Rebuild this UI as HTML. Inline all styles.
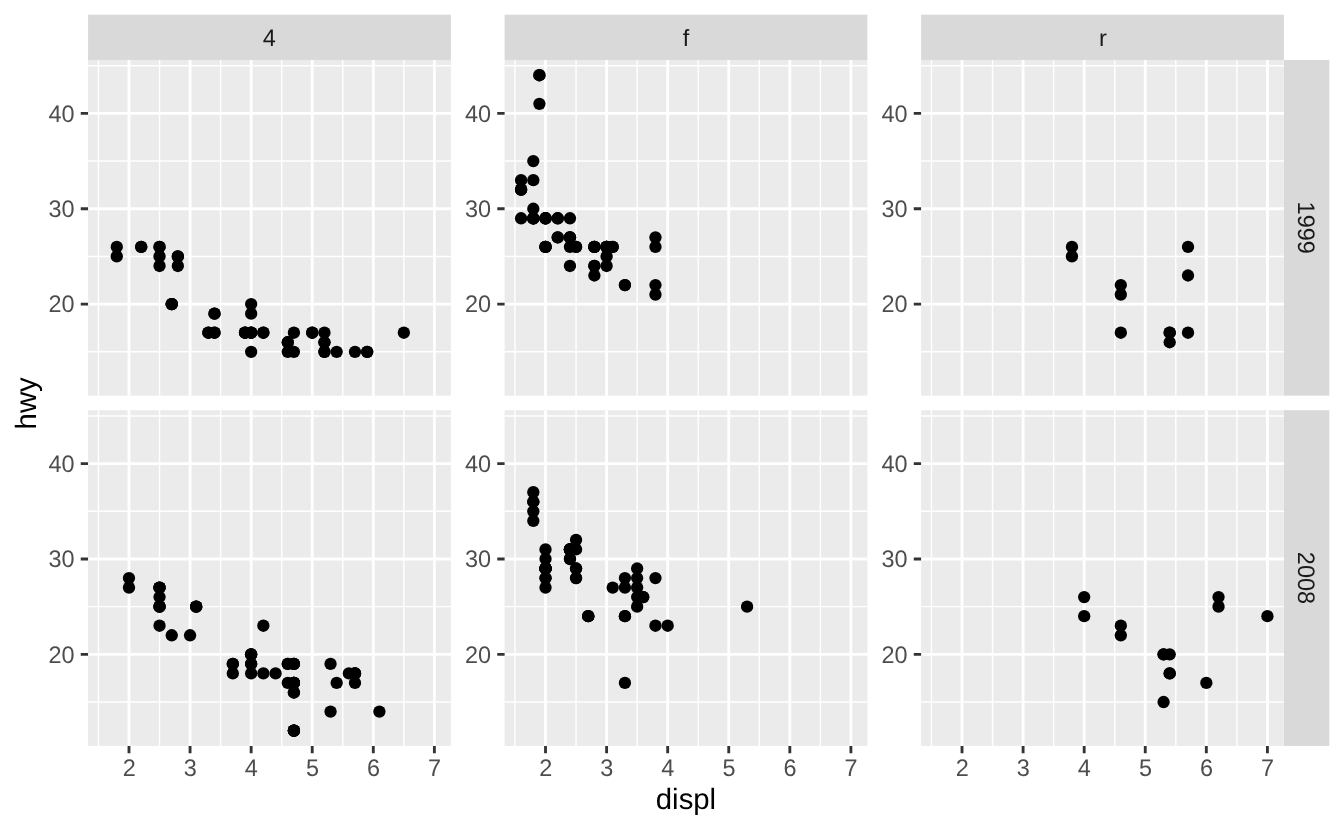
<!DOCTYPE html>
<html lang="en">
<head>
<meta charset="utf-8">
<title>hwy vs displ by drv and year</title>
<style>
html,body{margin:0;padding:0;background:#fff;}
body{width:1344px;height:830px;overflow:hidden;}
svg{display:block;}
text{font-family:"Liberation Sans",Arial,Helvetica,sans-serif;text-rendering:geometricPrecision;}
.ax{font-size:23.47px;fill:#4d4d4d;}
.st{font-size:23.47px;fill:#1a1a1a;}
.ti{font-size:29.33px;fill:#000;}
.bg{fill:#ebebeb;}
.sb{fill:#d9d9d9;}
.mn{stroke:#fff;stroke-width:1.42;fill:none;}
.mj{stroke:#fff;stroke-width:2.85;fill:none;}
.tk{stroke:#333;stroke-width:2.85;fill:none;}
.pt{fill:#000;}
</style>
</head>
<body>
<svg width="1344" height="830" viewBox="0 0 1344 830">
<rect x="0" y="0" width="1344" height="830" fill="#fff"/>
<rect class="sb" x="88.07" y="14.67" width="362.8" height="45.3"/>
<text class="st" transform="translate(269.17,45.7) scale(1,1.02)" text-anchor="middle">4</text>
<rect class="sb" x="504.6" y="14.67" width="362.8" height="45.3"/>
<text class="st" transform="translate(686,45.7) scale(1,1)" text-anchor="middle">f</text>
<rect class="sb" x="921.1" y="14.67" width="362.8" height="45.3"/>
<text class="st" transform="translate(1102.9,45.7) scale(1,1)" text-anchor="middle">r</text>
<rect class="sb" x="1283.9" y="59.97" width="45.43" height="335.7"/>
<text class="st" transform="translate(1298.2,227.72) rotate(90) scale(1,1.02)" text-anchor="middle">1999</text>
<rect class="sb" x="1283.9" y="410.2" width="45.43" height="335.7"/>
<text class="st" transform="translate(1298.2,577.95) rotate(90) scale(1,1.02)" text-anchor="middle">2008</text>
<g>
<rect class="bg" x="88.07" y="59.97" width="362.8" height="335.7"/>
<path class="mn" d="M88.07 351.8H450.87M88.07 256.43H450.87M88.07 161.06H450.87M88.07 65.69H450.87M98.45 59.97V395.67M159.53 59.97V395.67M220.61 59.97V395.67M281.69 59.97V395.67M342.76 59.97V395.67M403.84 59.97V395.67"/>
<path class="mj" d="M88.07 304.12H450.87M88.07 208.75H450.87M88.07 113.38H450.87M128.99 59.97V395.67M190.07 59.97V395.67M251.15 59.97V395.67M312.22 59.97V395.67M373.3 59.97V395.67M434.38 59.97V395.67"/>
<circle class="pt" cx="116.78" cy="246.89" r="6.16"/>
<circle class="pt" cx="116.78" cy="256.43" r="6.16"/>
<circle class="pt" cx="177.85" cy="256.43" r="6.16"/>
<circle class="pt" cx="177.85" cy="256.43" r="6.16"/>
<circle class="pt" cx="177.85" cy="265.97" r="6.16"/>
<circle class="pt" cx="354.98" cy="351.8" r="6.16"/>
<circle class="pt" cx="403.84" cy="332.73" r="6.16"/>
<circle class="pt" cx="245.04" cy="332.73" r="6.16"/>
<circle class="pt" cx="245.04" cy="332.73" r="6.16"/>
<circle class="pt" cx="324.44" cy="332.73" r="6.16"/>
<circle class="pt" cx="324.44" cy="351.8" r="6.16"/>
<circle class="pt" cx="245.04" cy="332.73" r="6.16"/>
<circle class="pt" cx="324.44" cy="342.26" r="6.16"/>
<circle class="pt" cx="367.19" cy="351.8" r="6.16"/>
<circle class="pt" cx="324.44" cy="351.8" r="6.16"/>
<circle class="pt" cx="324.44" cy="342.26" r="6.16"/>
<circle class="pt" cx="367.19" cy="351.8" r="6.16"/>
<circle class="pt" cx="251.15" cy="332.73" r="6.16"/>
<circle class="pt" cx="251.15" cy="313.65" r="6.16"/>
<circle class="pt" cx="251.15" cy="332.73" r="6.16"/>
<circle class="pt" cx="312.22" cy="332.73" r="6.16"/>
<circle class="pt" cx="263.36" cy="332.73" r="6.16"/>
<circle class="pt" cx="263.36" cy="332.73" r="6.16"/>
<circle class="pt" cx="287.79" cy="342.26" r="6.16"/>
<circle class="pt" cx="287.79" cy="342.26" r="6.16"/>
<circle class="pt" cx="336.66" cy="351.8" r="6.16"/>
<circle class="pt" cx="251.15" cy="304.12" r="6.16"/>
<circle class="pt" cx="293.9" cy="332.73" r="6.16"/>
<circle class="pt" cx="251.15" cy="351.8" r="6.16"/>
<circle class="pt" cx="287.79" cy="351.8" r="6.16"/>
<circle class="pt" cx="251.15" cy="332.73" r="6.16"/>
<circle class="pt" cx="312.22" cy="332.73" r="6.16"/>
<circle class="pt" cx="208.39" cy="332.73" r="6.16"/>
<circle class="pt" cx="208.39" cy="332.73" r="6.16"/>
<circle class="pt" cx="159.53" cy="256.43" r="6.16"/>
<circle class="pt" cx="159.53" cy="265.97" r="6.16"/>
<circle class="pt" cx="141.21" cy="246.89" r="6.16"/>
<circle class="pt" cx="141.21" cy="246.89" r="6.16"/>
<circle class="pt" cx="159.53" cy="246.89" r="6.16"/>
<circle class="pt" cx="159.53" cy="246.89" r="6.16"/>
<circle class="pt" cx="171.75" cy="304.12" r="6.16"/>
<circle class="pt" cx="171.75" cy="304.12" r="6.16"/>
<circle class="pt" cx="214.5" cy="313.65" r="6.16"/>
<circle class="pt" cx="214.5" cy="332.73" r="6.16"/>
<circle class="pt" cx="293.9" cy="351.8" r="6.16"/>
<circle class="pt" cx="171.75" cy="304.12" r="6.16"/>
<circle class="pt" cx="171.75" cy="304.12" r="6.16"/>
<circle class="pt" cx="214.5" cy="332.73" r="6.16"/>
<circle class="pt" cx="214.5" cy="313.65" r="6.16"/>
<path class="tk" d="M80.74 304.12H88.07M80.74 208.75H88.07M80.74 113.38H88.07"/>
<text class="ax" transform="translate(74.57,312.47) scale(1,1.02)" text-anchor="end">20</text>
<text class="ax" transform="translate(74.57,217.1) scale(1,1.02)" text-anchor="end">30</text>
<text class="ax" transform="translate(74.57,121.73) scale(1,1.02)" text-anchor="end">40</text>
</g>
<g>
<rect class="bg" x="504.6" y="59.97" width="362.8" height="335.7"/>
<path class="mn" d="M504.6 351.8H867.4M504.6 256.43H867.4M504.6 161.06H867.4M504.6 65.69H867.4M514.98 59.97V395.67M576.06 59.97V395.67M637.14 59.97V395.67M698.22 59.97V395.67M759.29 59.97V395.67M820.37 59.97V395.67"/>
<path class="mj" d="M504.6 304.12H867.4M504.6 208.75H867.4M504.6 113.38H867.4M545.52 59.97V395.67M606.6 59.97V395.67M667.68 59.97V395.67M728.75 59.97V395.67M789.83 59.97V395.67M850.91 59.97V395.67"/>
<circle class="pt" cx="533.31" cy="218.28" r="6.16"/>
<circle class="pt" cx="533.31" cy="218.28" r="6.16"/>
<circle class="pt" cx="594.38" cy="246.89" r="6.16"/>
<circle class="pt" cx="594.38" cy="246.89" r="6.16"/>
<circle class="pt" cx="569.95" cy="237.36" r="6.16"/>
<circle class="pt" cx="612.71" cy="246.89" r="6.16"/>
<circle class="pt" cx="569.95" cy="265.97" r="6.16"/>
<circle class="pt" cx="606.6" cy="265.97" r="6.16"/>
<circle class="pt" cx="624.92" cy="285.04" r="6.16"/>
<circle class="pt" cx="624.92" cy="285.04" r="6.16"/>
<circle class="pt" cx="655.46" cy="285.04" r="6.16"/>
<circle class="pt" cx="655.46" cy="294.58" r="6.16"/>
<circle class="pt" cx="521.09" cy="180.14" r="6.16"/>
<circle class="pt" cx="521.09" cy="189.67" r="6.16"/>
<circle class="pt" cx="521.09" cy="189.67" r="6.16"/>
<circle class="pt" cx="521.09" cy="218.28" r="6.16"/>
<circle class="pt" cx="521.09" cy="189.67" r="6.16"/>
<circle class="pt" cx="569.95" cy="246.89" r="6.16"/>
<circle class="pt" cx="569.95" cy="237.36" r="6.16"/>
<circle class="pt" cx="576.06" cy="246.89" r="6.16"/>
<circle class="pt" cx="576.06" cy="246.89" r="6.16"/>
<circle class="pt" cx="545.52" cy="246.89" r="6.16"/>
<circle class="pt" cx="545.52" cy="218.28" r="6.16"/>
<circle class="pt" cx="569.95" cy="218.28" r="6.16"/>
<circle class="pt" cx="569.95" cy="237.36" r="6.16"/>
<circle class="pt" cx="606.6" cy="246.89" r="6.16"/>
<circle class="pt" cx="606.6" cy="256.43" r="6.16"/>
<circle class="pt" cx="612.71" cy="246.89" r="6.16"/>
<circle class="pt" cx="655.46" cy="246.89" r="6.16"/>
<circle class="pt" cx="655.46" cy="237.36" r="6.16"/>
<circle class="pt" cx="557.74" cy="218.28" r="6.16"/>
<circle class="pt" cx="557.74" cy="237.36" r="6.16"/>
<circle class="pt" cx="606.6" cy="246.89" r="6.16"/>
<circle class="pt" cx="606.6" cy="246.89" r="6.16"/>
<circle class="pt" cx="557.74" cy="237.36" r="6.16"/>
<circle class="pt" cx="557.74" cy="218.28" r="6.16"/>
<circle class="pt" cx="606.6" cy="246.89" r="6.16"/>
<circle class="pt" cx="606.6" cy="246.89" r="6.16"/>
<circle class="pt" cx="533.31" cy="208.75" r="6.16"/>
<circle class="pt" cx="533.31" cy="180.14" r="6.16"/>
<circle class="pt" cx="533.31" cy="161.06" r="6.16"/>
<circle class="pt" cx="545.52" cy="218.28" r="6.16"/>
<circle class="pt" cx="545.52" cy="246.89" r="6.16"/>
<circle class="pt" cx="594.38" cy="265.97" r="6.16"/>
<circle class="pt" cx="539.41" cy="75.23" r="6.16"/>
<circle class="pt" cx="545.52" cy="218.28" r="6.16"/>
<circle class="pt" cx="545.52" cy="246.89" r="6.16"/>
<circle class="pt" cx="594.38" cy="275.5" r="6.16"/>
<circle class="pt" cx="594.38" cy="265.97" r="6.16"/>
<circle class="pt" cx="539.41" cy="75.23" r="6.16"/>
<circle class="pt" cx="539.41" cy="103.84" r="6.16"/>
<circle class="pt" cx="545.52" cy="218.28" r="6.16"/>
<circle class="pt" cx="545.52" cy="246.89" r="6.16"/>
<circle class="pt" cx="533.31" cy="218.28" r="6.16"/>
<circle class="pt" cx="533.31" cy="218.28" r="6.16"/>
<circle class="pt" cx="594.38" cy="246.89" r="6.16"/>
<circle class="pt" cx="594.38" cy="246.89" r="6.16"/>
<path class="tk" d="M497.27 304.12H504.6M497.27 208.75H504.6M497.27 113.38H504.6"/>
<text class="ax" transform="translate(491.1,312.47) scale(1,1.02)" text-anchor="end">20</text>
<text class="ax" transform="translate(491.1,217.1) scale(1,1.02)" text-anchor="end">30</text>
<text class="ax" transform="translate(491.1,121.73) scale(1,1.02)" text-anchor="end">40</text>
</g>
<g>
<rect class="bg" x="921.1" y="59.97" width="362.8" height="335.7"/>
<path class="mn" d="M921.1 351.8H1283.9M921.1 256.43H1283.9M921.1 161.06H1283.9M921.1 65.69H1283.9M931.48 59.97V395.67M992.56 59.97V395.67M1053.64 59.97V395.67M1114.72 59.97V395.67M1175.79 59.97V395.67M1236.87 59.97V395.67"/>
<path class="mj" d="M921.1 304.12H1283.9M921.1 208.75H1283.9M921.1 113.38H1283.9M962.02 59.97V395.67M1023.1 59.97V395.67M1084.18 59.97V395.67M1145.25 59.97V395.67M1206.33 59.97V395.67M1267.41 59.97V395.67"/>
<circle class="pt" cx="1188.01" cy="332.73" r="6.16"/>
<circle class="pt" cx="1188.01" cy="246.89" r="6.16"/>
<circle class="pt" cx="1188.01" cy="275.5" r="6.16"/>
<circle class="pt" cx="1120.82" cy="332.73" r="6.16"/>
<circle class="pt" cx="1169.69" cy="332.73" r="6.16"/>
<circle class="pt" cx="1071.96" cy="246.89" r="6.16"/>
<circle class="pt" cx="1071.96" cy="256.43" r="6.16"/>
<circle class="pt" cx="1120.82" cy="294.58" r="6.16"/>
<circle class="pt" cx="1120.82" cy="285.04" r="6.16"/>
<circle class="pt" cx="1169.69" cy="332.73" r="6.16"/>
<circle class="pt" cx="1169.69" cy="342.26" r="6.16"/>
<path class="tk" d="M913.77 304.12H921.1M913.77 208.75H921.1M913.77 113.38H921.1"/>
<text class="ax" transform="translate(907.6,312.47) scale(1,1.02)" text-anchor="end">20</text>
<text class="ax" transform="translate(907.6,217.1) scale(1,1.02)" text-anchor="end">30</text>
<text class="ax" transform="translate(907.6,121.73) scale(1,1.02)" text-anchor="end">40</text>
</g>
<g>
<rect class="bg" x="88.07" y="410.2" width="362.8" height="335.7"/>
<path class="mn" d="M88.07 702.03H450.87M88.07 606.66H450.87M88.07 511.29H450.87M88.07 415.92H450.87M98.45 410.2V745.9M159.53 410.2V745.9M220.61 410.2V745.9M281.69 410.2V745.9M342.76 410.2V745.9M403.84 410.2V745.9"/>
<path class="mj" d="M88.07 654.35H450.87M88.07 558.98H450.87M88.07 463.61H450.87M128.99 410.2V745.9M190.07 410.2V745.9M251.15 410.2V745.9M312.22 410.2V745.9M373.3 410.2V745.9M434.38 410.2V745.9"/>
<circle class="pt" cx="128.99" cy="578.05" r="6.16"/>
<circle class="pt" cx="128.99" cy="587.59" r="6.16"/>
<circle class="pt" cx="196.18" cy="606.66" r="6.16"/>
<circle class="pt" cx="196.18" cy="606.66" r="6.16"/>
<circle class="pt" cx="196.18" cy="606.66" r="6.16"/>
<circle class="pt" cx="263.36" cy="625.73" r="6.16"/>
<circle class="pt" cx="330.55" cy="663.88" r="6.16"/>
<circle class="pt" cx="330.55" cy="711.57" r="6.16"/>
<circle class="pt" cx="232.82" cy="663.88" r="6.16"/>
<circle class="pt" cx="232.82" cy="673.42" r="6.16"/>
<circle class="pt" cx="293.9" cy="663.88" r="6.16"/>
<circle class="pt" cx="293.9" cy="663.88" r="6.16"/>
<circle class="pt" cx="293.9" cy="730.64" r="6.16"/>
<circle class="pt" cx="293.9" cy="682.96" r="6.16"/>
<circle class="pt" cx="293.9" cy="730.64" r="6.16"/>
<circle class="pt" cx="293.9" cy="682.96" r="6.16"/>
<circle class="pt" cx="354.98" cy="673.42" r="6.16"/>
<circle class="pt" cx="293.9" cy="692.49" r="6.16"/>
<circle class="pt" cx="293.9" cy="730.64" r="6.16"/>
<circle class="pt" cx="293.9" cy="682.96" r="6.16"/>
<circle class="pt" cx="293.9" cy="682.96" r="6.16"/>
<circle class="pt" cx="293.9" cy="692.49" r="6.16"/>
<circle class="pt" cx="293.9" cy="730.64" r="6.16"/>
<circle class="pt" cx="354.98" cy="682.96" r="6.16"/>
<circle class="pt" cx="251.15" cy="663.88" r="6.16"/>
<circle class="pt" cx="287.79" cy="663.88" r="6.16"/>
<circle class="pt" cx="287.79" cy="682.96" r="6.16"/>
<circle class="pt" cx="336.66" cy="682.96" r="6.16"/>
<circle class="pt" cx="190.07" cy="635.27" r="6.16"/>
<circle class="pt" cx="232.82" cy="663.88" r="6.16"/>
<circle class="pt" cx="293.9" cy="730.64" r="6.16"/>
<circle class="pt" cx="293.9" cy="663.88" r="6.16"/>
<circle class="pt" cx="354.98" cy="673.42" r="6.16"/>
<circle class="pt" cx="379.41" cy="711.57" r="6.16"/>
<circle class="pt" cx="263.36" cy="673.42" r="6.16"/>
<circle class="pt" cx="275.58" cy="673.42" r="6.16"/>
<circle class="pt" cx="251.15" cy="663.88" r="6.16"/>
<circle class="pt" cx="287.79" cy="663.88" r="6.16"/>
<circle class="pt" cx="251.15" cy="654.35" r="6.16"/>
<circle class="pt" cx="348.87" cy="673.42" r="6.16"/>
<circle class="pt" cx="159.53" cy="587.59" r="6.16"/>
<circle class="pt" cx="159.53" cy="606.66" r="6.16"/>
<circle class="pt" cx="159.53" cy="597.12" r="6.16"/>
<circle class="pt" cx="159.53" cy="625.73" r="6.16"/>
<circle class="pt" cx="159.53" cy="606.66" r="6.16"/>
<circle class="pt" cx="159.53" cy="587.59" r="6.16"/>
<circle class="pt" cx="159.53" cy="606.66" r="6.16"/>
<circle class="pt" cx="159.53" cy="587.59" r="6.16"/>
<circle class="pt" cx="251.15" cy="654.35" r="6.16"/>
<circle class="pt" cx="293.9" cy="682.96" r="6.16"/>
<circle class="pt" cx="354.98" cy="673.42" r="6.16"/>
<circle class="pt" cx="171.75" cy="635.27" r="6.16"/>
<circle class="pt" cx="251.15" cy="673.42" r="6.16"/>
<circle class="pt" cx="251.15" cy="654.35" r="6.16"/>
<path class="tk" d="M80.74 654.35H88.07M80.74 558.98H88.07M80.74 463.61H88.07M128.99 745.9V753.23M190.07 745.9V753.23M251.15 745.9V753.23M312.22 745.9V753.23M373.3 745.9V753.23M434.38 745.9V753.23"/>
<text class="ax" transform="translate(74.57,662.7) scale(1,1.02)" text-anchor="end">20</text>
<text class="ax" transform="translate(74.57,567.33) scale(1,1.02)" text-anchor="end">30</text>
<text class="ax" transform="translate(74.57,471.96) scale(1,1.02)" text-anchor="end">40</text>
<text class="ax" transform="translate(129.19,775.8) scale(1,1.02)" text-anchor="middle">2</text>
<text class="ax" transform="translate(190.27,775.8) scale(1,1.02)" text-anchor="middle">3</text>
<text class="ax" transform="translate(251.35,775.8) scale(1,1.02)" text-anchor="middle">4</text>
<text class="ax" transform="translate(312.42,775.8) scale(1,1.02)" text-anchor="middle">5</text>
<text class="ax" transform="translate(373.5,775.8) scale(1,1.02)" text-anchor="middle">6</text>
<text class="ax" transform="translate(434.58,775.8) scale(1,1.02)" text-anchor="middle">7</text>
</g>
<g>
<rect class="bg" x="504.6" y="410.2" width="362.8" height="335.7"/>
<path class="mn" d="M504.6 702.03H867.4M504.6 606.66H867.4M504.6 511.29H867.4M504.6 415.92H867.4M514.98 410.2V745.9M576.06 410.2V745.9M637.14 410.2V745.9M698.22 410.2V745.9M759.29 410.2V745.9M820.37 410.2V745.9"/>
<path class="mj" d="M504.6 654.35H867.4M504.6 558.98H867.4M504.6 463.61H867.4M545.52 410.2V745.9M606.6 410.2V745.9M667.68 410.2V745.9M728.75 410.2V745.9M789.83 410.2V745.9M850.91 410.2V745.9"/>
<circle class="pt" cx="545.52" cy="549.44" r="6.16"/>
<circle class="pt" cx="545.52" cy="558.98" r="6.16"/>
<circle class="pt" cx="612.71" cy="587.59" r="6.16"/>
<circle class="pt" cx="569.95" cy="558.98" r="6.16"/>
<circle class="pt" cx="637.14" cy="568.51" r="6.16"/>
<circle class="pt" cx="643.25" cy="597.12" r="6.16"/>
<circle class="pt" cx="624.92" cy="616.2" r="6.16"/>
<circle class="pt" cx="624.92" cy="616.2" r="6.16"/>
<circle class="pt" cx="624.92" cy="682.96" r="6.16"/>
<circle class="pt" cx="655.46" cy="625.73" r="6.16"/>
<circle class="pt" cx="667.68" cy="625.73" r="6.16"/>
<circle class="pt" cx="533.31" cy="520.83" r="6.16"/>
<circle class="pt" cx="533.31" cy="501.75" r="6.16"/>
<circle class="pt" cx="533.31" cy="501.75" r="6.16"/>
<circle class="pt" cx="545.52" cy="568.51" r="6.16"/>
<circle class="pt" cx="569.95" cy="558.98" r="6.16"/>
<circle class="pt" cx="569.95" cy="549.44" r="6.16"/>
<circle class="pt" cx="624.92" cy="578.05" r="6.16"/>
<circle class="pt" cx="545.52" cy="578.05" r="6.16"/>
<circle class="pt" cx="545.52" cy="587.59" r="6.16"/>
<circle class="pt" cx="588.28" cy="616.2" r="6.16"/>
<circle class="pt" cx="588.28" cy="616.2" r="6.16"/>
<circle class="pt" cx="588.28" cy="616.2" r="6.16"/>
<circle class="pt" cx="576.06" cy="549.44" r="6.16"/>
<circle class="pt" cx="576.06" cy="539.9" r="6.16"/>
<circle class="pt" cx="637.14" cy="587.59" r="6.16"/>
<circle class="pt" cx="637.14" cy="597.12" r="6.16"/>
<circle class="pt" cx="637.14" cy="606.66" r="6.16"/>
<circle class="pt" cx="655.46" cy="578.05" r="6.16"/>
<circle class="pt" cx="747.08" cy="606.66" r="6.16"/>
<circle class="pt" cx="569.95" cy="549.44" r="6.16"/>
<circle class="pt" cx="569.95" cy="549.44" r="6.16"/>
<circle class="pt" cx="637.14" cy="578.05" r="6.16"/>
<circle class="pt" cx="569.95" cy="549.44" r="6.16"/>
<circle class="pt" cx="569.95" cy="549.44" r="6.16"/>
<circle class="pt" cx="624.92" cy="587.59" r="6.16"/>
<circle class="pt" cx="533.31" cy="492.22" r="6.16"/>
<circle class="pt" cx="533.31" cy="511.29" r="6.16"/>
<circle class="pt" cx="545.52" cy="568.51" r="6.16"/>
<circle class="pt" cx="545.52" cy="568.51" r="6.16"/>
<circle class="pt" cx="545.52" cy="568.51" r="6.16"/>
<circle class="pt" cx="545.52" cy="568.51" r="6.16"/>
<circle class="pt" cx="576.06" cy="578.05" r="6.16"/>
<circle class="pt" cx="576.06" cy="568.51" r="6.16"/>
<circle class="pt" cx="576.06" cy="578.05" r="6.16"/>
<circle class="pt" cx="576.06" cy="568.51" r="6.16"/>
<circle class="pt" cx="545.52" cy="578.05" r="6.16"/>
<circle class="pt" cx="545.52" cy="568.51" r="6.16"/>
<circle class="pt" cx="643.25" cy="597.12" r="6.16"/>
<path class="tk" d="M497.27 654.35H504.6M497.27 558.98H504.6M497.27 463.61H504.6M545.52 745.9V753.23M606.6 745.9V753.23M667.68 745.9V753.23M728.75 745.9V753.23M789.83 745.9V753.23M850.91 745.9V753.23"/>
<text class="ax" transform="translate(491.1,662.7) scale(1,1.02)" text-anchor="end">20</text>
<text class="ax" transform="translate(491.1,567.33) scale(1,1.02)" text-anchor="end">30</text>
<text class="ax" transform="translate(491.1,471.96) scale(1,1.02)" text-anchor="end">40</text>
<text class="ax" transform="translate(545.72,775.8) scale(1,1.02)" text-anchor="middle">2</text>
<text class="ax" transform="translate(606.8,775.8) scale(1,1.02)" text-anchor="middle">3</text>
<text class="ax" transform="translate(667.88,775.8) scale(1,1.02)" text-anchor="middle">4</text>
<text class="ax" transform="translate(728.95,775.8) scale(1,1.02)" text-anchor="middle">5</text>
<text class="ax" transform="translate(790.03,775.8) scale(1,1.02)" text-anchor="middle">6</text>
<text class="ax" transform="translate(851.11,775.8) scale(1,1.02)" text-anchor="middle">7</text>
</g>
<g>
<rect class="bg" x="921.1" y="410.2" width="362.8" height="335.7"/>
<path class="mn" d="M921.1 702.03H1283.9M921.1 606.66H1283.9M921.1 511.29H1283.9M921.1 415.92H1283.9M931.48 410.2V745.9M992.56 410.2V745.9M1053.64 410.2V745.9M1114.72 410.2V745.9M1175.79 410.2V745.9M1236.87 410.2V745.9"/>
<path class="mj" d="M921.1 654.35H1283.9M921.1 558.98H1283.9M921.1 463.61H1283.9M962.02 410.2V745.9M1023.1 410.2V745.9M1084.18 410.2V745.9M1145.25 410.2V745.9M1206.33 410.2V745.9M1267.41 410.2V745.9"/>
<circle class="pt" cx="1163.58" cy="654.35" r="6.16"/>
<circle class="pt" cx="1163.58" cy="702.03" r="6.16"/>
<circle class="pt" cx="1163.58" cy="654.35" r="6.16"/>
<circle class="pt" cx="1206.33" cy="682.96" r="6.16"/>
<circle class="pt" cx="1218.55" cy="597.12" r="6.16"/>
<circle class="pt" cx="1218.55" cy="606.66" r="6.16"/>
<circle class="pt" cx="1267.41" cy="616.2" r="6.16"/>
<circle class="pt" cx="1169.69" cy="673.42" r="6.16"/>
<circle class="pt" cx="1084.18" cy="597.12" r="6.16"/>
<circle class="pt" cx="1084.18" cy="616.2" r="6.16"/>
<circle class="pt" cx="1120.82" cy="625.73" r="6.16"/>
<circle class="pt" cx="1120.82" cy="635.27" r="6.16"/>
<circle class="pt" cx="1169.69" cy="654.35" r="6.16"/>
<circle class="pt" cx="1169.69" cy="673.42" r="6.16"/>
<path class="tk" d="M913.77 654.35H921.1M913.77 558.98H921.1M913.77 463.61H921.1M962.02 745.9V753.23M1023.1 745.9V753.23M1084.18 745.9V753.23M1145.25 745.9V753.23M1206.33 745.9V753.23M1267.41 745.9V753.23"/>
<text class="ax" transform="translate(907.6,662.7) scale(1,1.02)" text-anchor="end">20</text>
<text class="ax" transform="translate(907.6,567.33) scale(1,1.02)" text-anchor="end">30</text>
<text class="ax" transform="translate(907.6,471.96) scale(1,1.02)" text-anchor="end">40</text>
<text class="ax" transform="translate(962.22,775.8) scale(1,1.02)" text-anchor="middle">2</text>
<text class="ax" transform="translate(1023.3,775.8) scale(1,1.02)" text-anchor="middle">3</text>
<text class="ax" transform="translate(1084.38,775.8) scale(1,1.02)" text-anchor="middle">4</text>
<text class="ax" transform="translate(1145.45,775.8) scale(1,1.02)" text-anchor="middle">5</text>
<text class="ax" transform="translate(1206.53,775.8) scale(1,1.02)" text-anchor="middle">6</text>
<text class="ax" transform="translate(1267.61,775.8) scale(1,1.02)" text-anchor="middle">7</text>
</g>
<text class="ti" x="685.99" y="808.6" text-anchor="middle">displ</text>
<text class="ti" transform="translate(36.3,403.33) rotate(-90)" text-anchor="middle">hwy</text>
</svg>
</body>
</html>
